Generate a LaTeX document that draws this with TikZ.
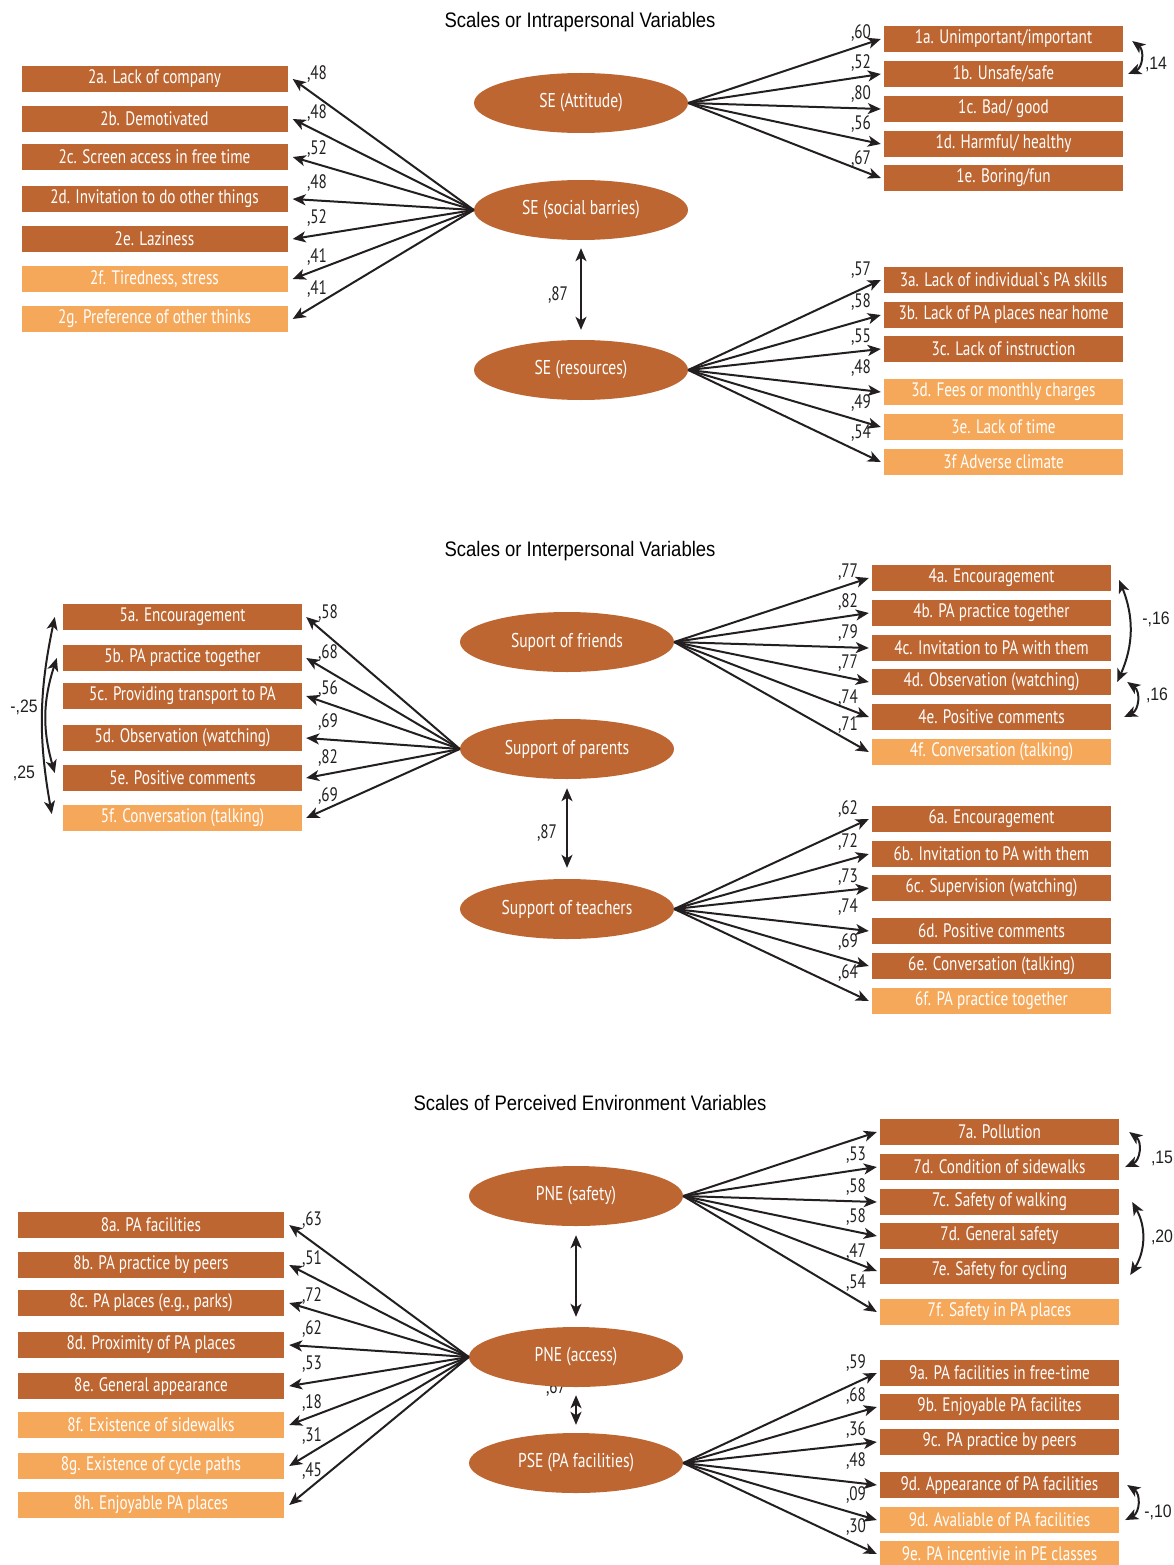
\documentclass[tikz,border=0pt]{standalone}
\usepackage{fontspec}
\usetikzlibrary{arrows.meta,shapes.geometric}
\newfontfamily\boxfont{PT Sans}[FakeStretch=0.78]
\newfontfamily\headfont{Liberation Sans}[FakeStretch=0.88]
\definecolor{semdark}{RGB}{189,102,50}
\definecolor{semlight}{RGB}{246,168,90}
\definecolor{semline}{RGB}{35,31,32}
\tikzset{
  item/.style={rectangle,fill=semdark,text=white,minimum width=239pt,minimum height=26pt,inner sep=0pt,font=\boxfont\fontsize{19.5}{19.5}\selectfont},
  wide/.style={minimum width=266pt},
  latent/.style={ellipse,fill=semdark,text=white,minimum width=214pt,minimum height=60pt,inner sep=0pt,font=\boxfont\fontsize{20}{20}\selectfont},
  load/.style={font=\boxfont\fontsize{19.5}{19.5}\selectfont,text=semline,inner sep=0pt},
  covlab/.style={font=\headfont\fontsize{18}{18}\selectfont,text=semline,inner sep=0pt},
  heading/.style={font=\headfont\fontsize{21}{21}\selectfont,inner sep=0pt},
  loadarrow/.style={draw=semline,line width=2pt,-{Stealth[length=13pt,width=11pt,inset=3.5pt]}},
  corr/.style={draw=semline,line width=2pt,{Stealth[length=13pt,width=11pt,inset=3.5pt]}-{Stealth[length=13pt,width=11pt,inset=3.5pt]}}
}
\begin{document}
\begin{tikzpicture}[x=1pt,y=-1pt]
\useasboundingbox (0,0) rectangle (1174,1565);
%Titles
\node[heading] (t1) at (580,22) {Scales or Intrapersonal Variables};
\node[heading] (t2) at (580,551) {Scales or Interpersonal Variables};
\node[heading] (t3) at (590,1103) {Scales of Perceived Environment Variables};
%label hidden under the ellipse
\node[load] (l67) at (556,1388) {,67};
%Latent variables
\node[latent] (se1) at (581,103) {SE (Attitude)};
\node[latent] (se2) at (581,210) {SE (social barries)};
\node[latent] (se3) at (581,370) {SE (resources)};
\node[latent] (sp1) at (567,642) {Suport of friends};
\node[latent] (sp2) at (567,749) {Support of parents};
\node[latent] (sp3) at (567,909) {Support of teachers};
\node[latent] (pe1) at (576,1196) {PNE (safety)};
\node[latent] (pe2) at (576,1357) {PNE (access)};
\node[latent] (pe3) at (576,1463) {PSE (PA facilities)};
%Correlations between latent variables
\draw[corr] ([yshift=-8pt]se2.south) -- ([yshift=10pt]se3.north);
\node[load] (l87a) at (558,295) {,87};
\draw[corr] ([yshift=-9pt]sp2.south) -- ([yshift=11pt]sp3.north);
\node[load] (l87b) at (547,833) {,87};
\draw[corr] ([yshift=-9pt]pe1.south) -- ([yshift=10pt]pe2.north);
\draw[corr] ([yshift=-8pt]pe2.south) -- ([yshift=8pt]pe3.north);
%SE (Attitude)
\foreach \k/\y/\col/\t/\ly/\l in {
  1a/39/semdark/{1a. Unimportant/important}/33/{,60},
  1b/74/semdark/{1b. Unsafe/safe}/63/{,52},
  1c/109/semdark/{1c. Bad/ good}/94/{,80},
  1d/144/semdark/{1d. Harmful/ healthy}/124/{,56},
  1e/178/semdark/{1e. Boring/fun}/159/{,67}}{
  \node[item,fill=\col] (b\k) at (1003.5,\y) {\t};
  \draw[loadarrow] (se1.east) -- ([xshift=-3pt]b\k.west);
  \node[load] (l\k) at (861,\ly) {\l};
}
%SE (social barries)
\foreach \k/\y/\col/\t/\ly/\l in {
  2a/79/semdark/{2a. Lack of company}/74/{,48},
  2b/119/semdark/{2b. Demotivated}/113/{,48},
  2c/157/semdark/{2c. Screen access in free time}/149/{,52},
  2d/199/semdark/{2d. Invitation to do other things}/183/{,48},
  2e/239/semdark/{2e. Laziness}/218/{,52},
  2f/279/semlight/{2f. Tiredness, stress}/257/{,41},
  2g/319/semlight/{2g. Preference of other thinks}/289/{,41}}{
  \node[item,wide,fill=\col] (b\k) at (154.5,\y) {\t};
  \draw[loadarrow] (se2.west) -- ([xshift=5pt]b\k.east);
  \node[load] (l\k) at (317,\ly) {\l};
}
%SE (resources)
\foreach \k/\y/\col/\t/\ly/\l in {
  3a/280/semdark/{3a. Lack of individual`s PA skills}/270/{,57},
  3b/315/semdark/{3b. Lack of PA places near home}/302/{,58},
  3c/349/semdark/{3c. Lack of instruction}/337/{,55},
  3d/392/semlight/{3d. Fees or monthly charges}/368/{,48},
  3e/427/semlight/{3e. Lack of time}/403/{,49},
  3f/462/semlight/{3f Adverse climate}/433/{,54}}{
  \node[item,fill=\col] (b\k) at (1003.5,\y) {\t};
  \draw[loadarrow] (se3.east) -- ([xshift=-3pt]b\k.west);
  \node[load] (l\k) at (861,\ly) {\l};
}
\draw[corr] ([xshift=9pt,yshift=-2pt]b1a.east) to[bend left=60,looseness=1.2] ([xshift=5pt]b1b.east);
\node[covlab] (c14) at (1156,64) {,14};
%Suport of friends
\foreach \k/\y/\col/\t/\ly/\l in {
  4a/578/semdark/{4a. Encouragement}/572/{,77},
  4b/613/semdark/{4b. PA practice together}/602/{,82},
  4c/648/semdark/{4c. Invitation to PA with them}/633/{,79},
  4d/682/semdark/{4d. Observation (watching)}/663/{,77},
  4e/717/semdark/{4e. Positive comments}/698/{,74},
  4f/752/semlight/{4f. Conversation (talking)}/725/{,71}}{
  \node[item,fill=\col] (b\k) at (991.5,\y) {\t};
  \draw[loadarrow] (sp1.east) -- ([xshift=-3pt]b\k.west);
  \node[load] (l\k) at (848,\ly) {\l};
}
%Support of parents
\foreach \k/\y/\col/\t/\ly/\l in {
  5a/617/semdark/{5a. Encouragement}/613/{,58},
  5b/658/semdark/{5b. PA practice together}/653/{,68},
  5c/696/semdark/{5c. Providing transport to PA}/689/{,56},
  5d/738/semdark/{5d. Observation (watching)}/722/{,69},
  5e/778/semdark/{5e. Positive comments}/758/{,82},
  5f/818/semlight/{5f. Conversation (talking)}/796/{,69}}{
  \node[item,fill=\col] (b\k) at (182.5,\y) {\t};
  \draw[loadarrow] (sp2.west) -- ([xshift=4pt]b\k.east);
  \node[load] (l\k) at (328,\ly) {\l};
}
%Support of teachers
\foreach \k/\y/\col/\t/\ly/\l in {
  6a/819/semdark/{6a. Encouragement}/809/{,62},
  6b/854/semdark/{6b. Invitation to PA with them}/842/{,72},
  6c/888/semdark/{6c. Supervision (watching)}/877/{,73},
  6d/931/semdark/{6d. Positive comments}/907/{,74},
  6e/966/semdark/{6e. Conversation (talking)}/942/{,69},
  6f/1001/semlight/{6f. PA practice together}/973/{,64}}{
  \node[item,fill=\col] (b\k) at (991.5,\y) {\t};
  \draw[loadarrow] (sp3.east) -- ([xshift=-3pt]b\k.west);
  \node[load] (l\k) at (848,\ly) {\l};
}
\draw[corr] ([xshift=8pt,yshift=-2pt]b4a.east) to[bend left=23] ([xshift=6pt]b4d.east);
\node[covlab] (c16a) at (1156,619) {-,16};
\draw[corr] ([xshift=16pt]b4d.east) to[bend left=60,looseness=1.2] ([xshift=13pt]b4e.east);
\node[covlab] (c16b) at (1157,695) {,16};
\draw[corr] ([xshift=-8pt]b5a.west) to[bend right=11] ([xshift=-11pt,yshift=4pt]b5f.west);
\draw[corr] ([xshift=-6pt]b5b.west) to[bend right=17] ([xshift=-8pt,yshift=5pt]b5e.west);
\node[covlab] (c25a) at (24,707) {-,25};
\node[covlab] (c25b) at (24,773) {,25};
%PNE (safety)
\node[item] (b7a) at (999.5,1132) {7a. Pollution};
\draw[loadarrow] (pe1.east) -- ([xshift=-3pt]b7a.west);
\foreach \k/\y/\col/\t/\ly/\l in {
  7b/1167/semdark/{7d. Condition of sidewalks}/1155/{,53},
  7c/1202/semdark/{7c. Safety of walking}/1187/{,58},
  7d/1236/semdark/{7d. General safety}/1217/{,58},
  7e/1271/semdark/{7e. Safety for cycling}/1252/{,47},
  7f/1312/semlight/{7f. Safety in PA places}/1283/{,54}}{
  \node[item,fill=\col] (b\k) at (999.5,\y) {\t};
  \draw[loadarrow] (pe1.east) -- ([xshift=-3pt]b\k.west);
  \node[load] (l\k) at (856,\ly) {\l};
}
\draw[corr] ([xshift=10pt]b7a.east) to[bend left=60,looseness=1.2] ([xshift=6pt]b7b.east);
\node[covlab] (c15) at (1162,1158) {,15};
\draw[corr] ([xshift=13pt]b7c.east) to[bend left=31] ([xshift=11pt,yshift=-4pt]b7e.east);
\node[covlab] (c20) at (1162,1237) {,20};
%PNE (access)
\foreach \k/\y/\col/\t/\ly/\l in {
  8a/1225/semdark/{8a. PA facilities}/1220/{,63},
  8b/1265/semdark/{8b. PA practice by peers}/1259/{,51},
  8c/1303/semdark/{8c. PA places (e.g., parks)}/1296/{,72},
  8d/1345/semdark/{8d. Proximity of PA places}/1329/{,62},
  8e/1386/semdark/{8e. General appearance}/1364/{,53},
  8f/1425/semlight/{8f. Existence of sidewalks}/1403/{,18},
  8g/1466/semlight/{8g. Existence of cycle paths}/1436/{,31},
  8h/1505/semlight/{8h. Enjoyable PA places}/1471/{,45}}{
  \node[item,wide,fill=\col] (b\k) at (151,\y) {\t};
  \draw[loadarrow] (pe2.west) -- ([xshift=5pt]b\k.east);
  \node[load] (l\k) at (312,\ly) {\l};
}
%PSE (PA facilities)
\foreach \k/\y/\col/\t/\ly/\l in {
  9a/1373/semdark/{9a. PA facilities in free-time}/1363/{,59},
  9b/1407/semdark/{9b. Enjoyable PA facilites}/1396/{,68},
  9c/1442/semdark/{9c. PA practice by peers}/1430/{,36},
  9d/1485/semdark/{9d. Appearance of PA facilities}/1461/{,48},
  9v/1520/semlight/{9d. Avaliable of PA facilities}/1495/{,09},
  9e/1554/semlight/{9e. PA incentivie in PE classes}/1527/{,30}}{
  \node[item,fill=\col] (b\k) at (999.5,\y) {\t};
  \draw[loadarrow] (pe3.east) -- ([xshift=-3pt]b\k.west);
  \node[load] (l\k) at (856,\ly) {\l};
}
\draw[corr] ([xshift=8pt]b9d.east) to[bend left=60,looseness=1.2] ([xshift=6pt]b9v.east);
\node[covlab] (c10) at (1158,1512) {-,10};
\end{tikzpicture}
\end{document}
